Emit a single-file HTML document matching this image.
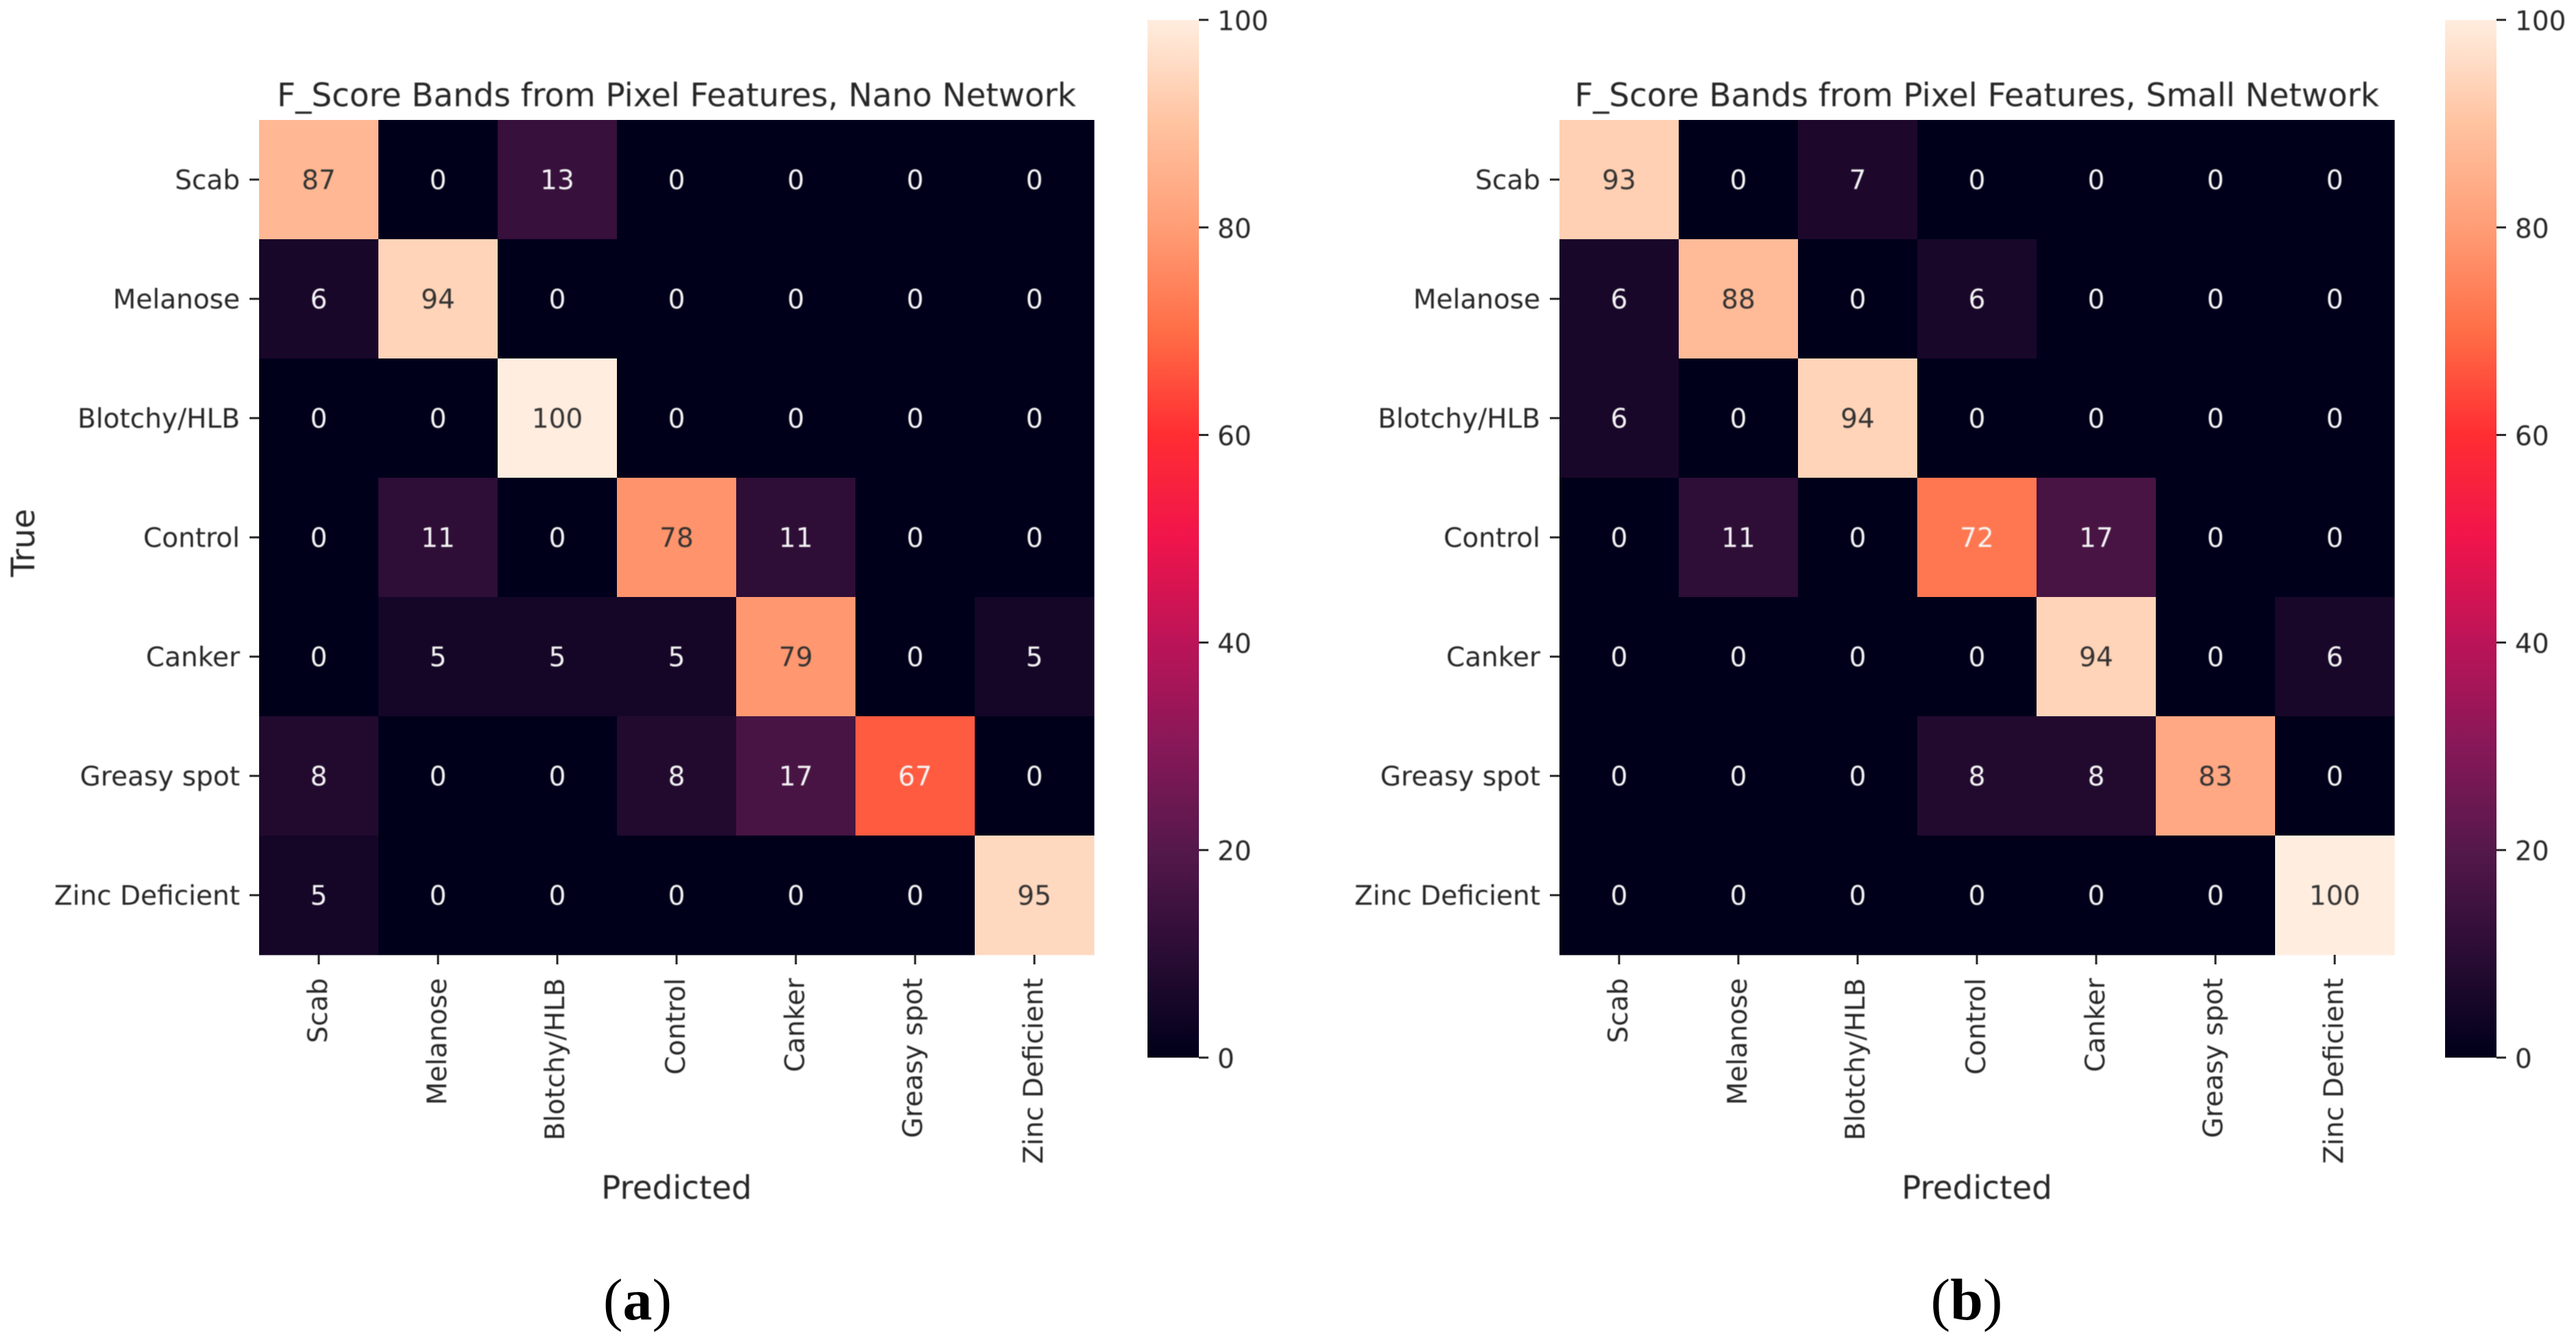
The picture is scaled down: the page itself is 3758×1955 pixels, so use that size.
<!DOCTYPE html>
<html lang="en">
<head>
<meta charset="utf-8">
<title>F_Score Confusion Matrices</title>
<style>
html,body{margin:0;padding:0;background:#fff;width:3758px;height:1955px;overflow:hidden}
svg{display:block}
text{font-family:"DejaVu Sans",sans-serif;fill:#262626;filter:blur(0.9px)}
</style>
</head>
<body>
<svg id="figure" xmlns="http://www.w3.org/2000/svg" width="3758" height="1955" viewBox="0 0 3758 1955">
<defs id="defs"></defs>
<rect width="3758" height="1955" fill="#ffffff"></rect>
</svg>
<script>
const categories = ["Scab","Melanose","Blotchy/HLB","Control","Canker","Greasy spot","Zinc Deficient"];
const nanoValues = [
  [87,0,13,0,0,0,0],
  [6,94,0,0,0,0,0],
  [0,0,100,0,0,0,0],
  [0,11,0,78,11,0,0],
  [0,5,5,5,79,0,5],
  [8,0,0,8,17,67,0],
  [5,0,0,0,0,0,95]
];
const smallValues = [
  [93,0,7,0,0,0,0],
  [6,88,0,6,0,0,0],
  [6,0,94,0,0,0,0],
  [0,11,0,72,17,0,0],
  [0,0,0,0,94,0,6],
  [0,0,0,8,8,83,0],
  [0,0,0,0,0,0,100]
];
const colorbarTicks = [0,20,40,60,80,100];
const colorMin = 0;
const colorMax = 100;
const rocket = ["#00001a","#2a0c34","#55184b","#871858","#bb1458","#f0144b","#ff2d32","#ff6e46","#ff9d76","#ffc3a0","#ffeddf"];

const svg = document.getElementById('figure');
const defs = document.getElementById('defs');
const NS = 'http://www.w3.org/2000/svg';
const TICK_FONT = 39, LABEL_FONT = 46.8;
const CELL = 174, TOP = 175, N = categories.length;
const CB_TOP = 29, CB_BOTTOM = 1543;

function make(tag, attrs, parent){
  const el = document.createElementNS(NS, tag);
  for (const k in attrs) el.setAttribute(k, attrs[k]);
  parent.appendChild(el);
  return el;
}
function hex(c){ return [1,3,5].map(i => parseInt(c.substr(i,2),16)); }
function colorFor(v){
  const t = Math.max(0, Math.min(1, (v - colorMin) / (colorMax - colorMin))) * (rocket.length - 1);
  const i = Math.min(Math.floor(t), rocket.length - 2), f = t - i;
  const a = hex(rocket[i]), b = hex(rocket[i + 1]);
  return a.map((x, k) => Math.round(x + (b[k] - x) * f));
}
function luminance(rgb){
  const l = rgb.map(c => { c /= 255; return c <= 0.03928 ? c / 12.92 : Math.pow((c + 0.055) / 1.055, 2.4); });
  return 0.2126 * l[0] + 0.7152 * l[1] + 0.0722 * l[2];
}
function cssColor(rgb){ return 'rgb(' + rgb.join(',') + ')'; }
const yScale = row => TOP + row * CELL;
const cbarY = v => CB_BOTTOM - (v - colorMin) / (colorMax - colorMin) * (CB_BOTTOM - CB_TOP);

const grad = make('linearGradient', {id:'rocket-gradient', x1:0, y1:1, x2:0, y2:0}, defs);
for (let i = 0; i <= 100; i += 2) {
  make('stop', {offset: (i / 100), 'stop-color': cssColor(colorFor(colorMin + (colorMax - colorMin) * i / 100))}, grad);
}

function drawPanel(cfg){
  const xScale = col => cfg.left + col * CELL;
  const g = make('g', {}, svg);
  
  

  const title = make('text', {x: cfg.left + N * CELL / 2, y: 155, 'text-anchor': 'middle', 'font-size': LABEL_FONT}, g);
  
  
  title.textContent = cfg.title;

  cfg.values.forEach((rowVals, r) => {
    rowVals.forEach((v, c) => {
      const rgb = colorFor(v);
      const cell = make('rect', {x: xScale(c), y: yScale(r), width: CELL + 0.5, height: CELL + 0.5, fill: cssColor(rgb)}, g);
      
      
      const label = make('text', {x: xScale(c) + CELL / 2, y: yScale(r) + CELL / 2 + 14, 'text-anchor': 'middle', 'font-size': TICK_FONT}, g);
      
      
      label.style.fill = luminance(rgb) > 0.408 ? '#333333' : '#f4f4f4';
      label.textContent = v;
    });
  });

  categories.forEach((name, i) => {
    const cy = yScale(i) + CELL / 2;
    const yt = make('rect', {x: cfg.left - 14, y: cy - 1.5, width: 14, height: 3, fill: '#262626'}, g);
    
    
    const yl = make('text', {x: cfg.left - 28, y: cy + 14, 'text-anchor': 'end', 'font-size': TICK_FONT}, g);
    
    
    yl.textContent = name;

    const cx = xScale(i) + CELL / 2;
    const xt = make('rect', {x: cx - 1.5, y: TOP + N * CELL, width: 3, height: 14, fill: '#262626'}, g);
    
    
    const base = cx + (/[py]/.test(name) ? 10 : 12);
    const xl = make('text', {x: base, y: 1427, 'text-anchor': 'end', 'font-size': TICK_FONT, transform: 'rotate(-90 ' + base + ' 1427)'}, g);
    
    
    xl.textContent = name;
  });

  const xTitle = make('text', {x: cfg.left + N * CELL / 2, y: 1749, 'text-anchor': 'middle', 'font-size': LABEL_FONT}, g);
  
  
  xTitle.textContent = 'Predicted';

  if (cfg.yTitle) {
    const yTitle = make('text', {x: 50, y: 792, 'text-anchor': 'middle', 'font-size': LABEL_FONT, transform: 'rotate(-90 50 792)'}, g);
    
    
    yTitle.textContent = cfg.yTitle;
  }

  const cbar = make('rect', {x: cfg.cbarLeft, y: CB_TOP, width: 75, height: CB_BOTTOM - CB_TOP, fill: 'url(#rocket-gradient)'}, g);
  
  
  colorbarTicks.forEach(v => {
    const ty = cbarY(v);
    const t = make('rect', {x: cfg.cbarLeft + 75, y: ty - 1.5, width: 14, height: 3, fill: '#262626'}, g);
    
    
    const l = make('text', {x: cfg.cbarLeft + 102, y: ty + 15, 'font-size': TICK_FONT}, g);
    
    
    l.textContent = v;
  });

  const cap = make('text', {x: cfg.capX, y: 1925, 'text-anchor': 'middle', 'font-size': 86}, g);
  
  
  cap.style.fontFamily = '"Liberation Serif", serif';
  cap.style.fill = '#000000';
  cap.style.filter = 'none';
  cap.textContent = '(';
  const bold = make('tspan', {'font-weight': 'bold'}, cap);
  bold.textContent = cfg.capLetter;
  const close = make('tspan', {}, cap);
  close.textContent = ')';
}

drawPanel({name:'nano-network', title:'F_Score Bands from Pixel Features, Nano Network', values:nanoValues, left:378, cbarLeft:1674, yTitle:'True', capX:930, capLetter:'a'});
drawPanel({name:'small-network', title:'F_Score Bands from Pixel Features, Small Network', values:smallValues, left:2275, cbarLeft:3567, yTitle:'', capX:2869, capLetter:'b'});
</script>
</body>
</html>
